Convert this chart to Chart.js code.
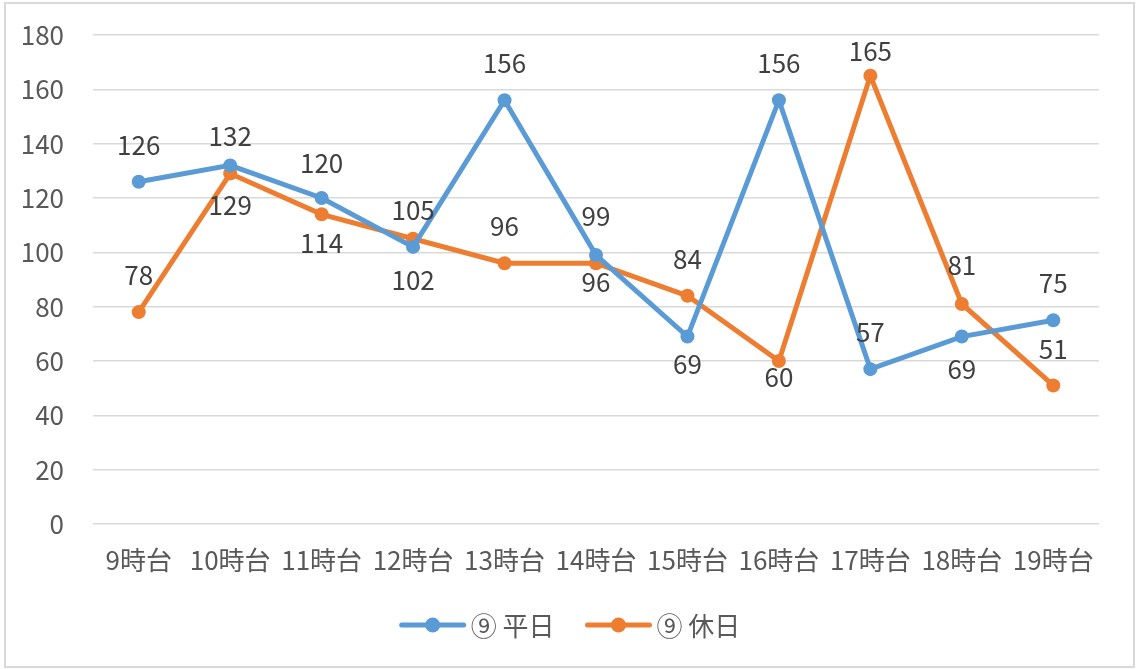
<!DOCTYPE html>
<html>
<head>
<meta charset="utf-8">
<script src="https://cdn.jsdelivr.net/npm/chart.js@4/dist/chart.umd.min.js"></script>
<style>
  html, body { margin: 0; padding: 0; background: #fff; }
  #wrap { position: relative; width: 1140px; height: 669px; }
  #frame { position: absolute; left: 4px; top: 2px; width: 1127px; height: 662px; border: 2px solid #d9d9d9; }
</style>
</head>
<body>
<div id="wrap">
  <div id="frame"></div>
  <canvas id="chart" width="1140" height="669"></canvas>
</div>
<script>
const hours = ['9時台', '10時台', '11時台', '12時台', '13時台', '14時台', '15時台', '16時台', '17時台', '18時台', '19時台'];
const weekday = [126, 132, 120, 102, 156, 99, 69, 156, 57, 69, 75];
const holiday = [78, 129, 114, 105, 96, 96, 84, 60, 165, 81, 51];
const seriesNames = ['⑨ 平日', '⑨ 休日'];
const yTicks = [0, 20, 40, 60, 80, 100, 120, 140, 160, 180];

// data label nudges (px from the point, negative = above), as placed in the original sheet
const weekdayLabelShift = [-36, -29, -35, 34, -37, -39, 28, -37, -37, 33, -37];
const holidayLabelShift = [-37, 32, 29, -28, -37, 19, -36, 16, -24, -38, -36];

const FONT = '"Noto Sans CJK JP", "Noto Sans", sans-serif';

const pointLabels = {
  id: 'pointLabels',
  afterDatasetsDraw(chart) {
    const ctx = chart.ctx;
    ctx.save();
    ctx.font = '26px ' + FONT;
    ctx.fillStyle = '#404040';
    ctx.textAlign = 'center';
    ctx.textBaseline = 'alphabetic';
    chart.data.datasets.forEach((ds, i) => {
      const meta = chart.getDatasetMeta(i);
      meta.data.forEach((pt, j) => {
        const txt = String(ds.data[j]);
        const m = ctx.measureText(txt);
        const mid = (m.actualBoundingBoxAscent - m.actualBoundingBoxDescent) / 2;
        ctx.fillText(txt, pt.x, pt.y + ds.labelShift[j] + mid);
      });
    });
    ctx.restore();
  }
};

const excelLegend = {
  id: 'excelLegend',
  afterDraw(chart) {
    const ctx = chart.ctx;
    ctx.save();
    ctx.font = '26px ' + FONT;
    ctx.textBaseline = 'middle';
    const lineLen = 66, gap = 5, between = 31, y = 625;
    const items = chart.data.datasets.map(ds => ({ ds, w: lineLen + gap + ctx.measureText(ds.label).width }));
    const total = items.reduce((s, it) => s + it.w, 0) + between * (items.length - 1);
    let x = (chart.width - total) / 2;
    items.forEach(it => {
      ctx.strokeStyle = it.ds.borderColor;
      ctx.lineWidth = 5;
      ctx.lineCap = 'round';
      ctx.beginPath();
      ctx.moveTo(x + 2, y);
      ctx.lineTo(x + lineLen - 2, y);
      ctx.stroke();
      ctx.fillStyle = it.ds.borderColor;
      ctx.beginPath();
      ctx.arc(x + lineLen / 2, y, 7.5, 0, Math.PI * 2);
      ctx.fill();
      ctx.fillStyle = '#595959';
      ctx.fillText(it.ds.label, x + lineLen + gap, y + 1);
      x += it.w + between;
    });
    ctx.restore();
  }
};

new Chart(document.getElementById('chart'), {
  type: 'line',
  data: {
    labels: hours,
    datasets: [
      {
        label: seriesNames[0],
        data: weekday,
        labelShift: weekdayLabelShift,
        borderColor: '#5b9bd5',
        backgroundColor: '#5b9bd5',
        borderWidth: 5,
        pointRadius: 7,
        pointHoverRadius: 7,
        pointBorderWidth: 0
      },
      {
        label: seriesNames[1],
        data: holiday,
        labelShift: holidayLabelShift,
        borderColor: '#ed7d31',
        backgroundColor: '#ed7d31',
        borderWidth: 5,
        pointRadius: 7,
        pointHoverRadius: 7,
        pointBorderWidth: 0
      }
    ]
  },
  options: {
    responsive: false,
    animation: false,
    layout: { padding: { left: 0, right: 41, top: 35, bottom: 85 } },
    plugins: {
      legend: { display: false },
      tooltip: { enabled: false }
    },
    scales: {
      x: {
        offset: true,
        grid: { display: false, drawTicks: false },
        border: { display: false },
        ticks: { color: '#595959', font: { size: 26, family: FONT }, padding: 21, maxRotation: 0, autoSkip: false },
        afterFit(scale) { scale.height = 60; }
      },
      y: {
        min: 0,
        max: 180,
        afterBuildTicks(scale) { scale.ticks = yTicks.map(v => ({ value: v })); },
        grid: { color: '#d9d9d9', lineWidth: 1.5, drawTicks: false },
        border: { display: false },
        ticks: { color: '#595959', font: { size: 26, family: FONT }, padding: 29 },
        afterFit(scale) {
          scale.width = 93;
          scale.paddingTop = 10;
          scale.paddingBottom = 10;
        }
      }
    }
  },
  plugins: [pointLabels, excelLegend]
});
</script>
</body>
</html>
